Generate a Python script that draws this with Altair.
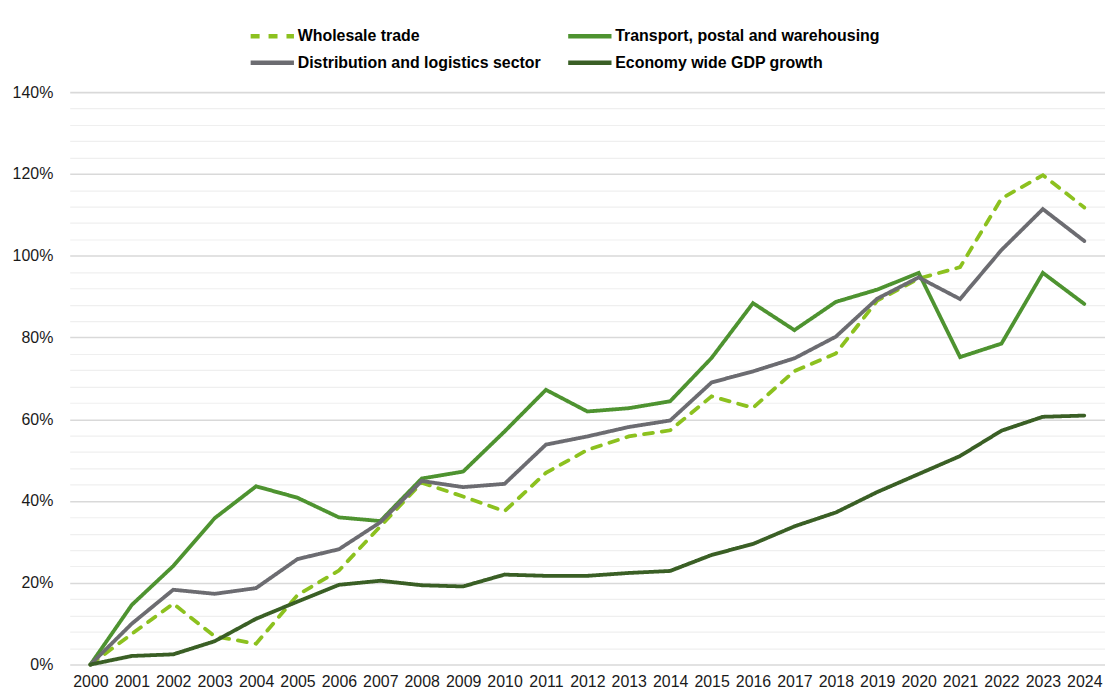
import altair as alt
import pandas as pd

years = [str(y) for y in range(2000, 2025)]
series_names = [
    "Wholesale trade",
    "Transport, postal and warehousing",
    "Distribution and logistics sector",
    "Economy wide GDP growth",
]
wholesale = [0, 7.5, 14.9, 6.9, 5.1, 17.0, 23.0, 33.8, 44.5, 41.1, 37.5, 46.9, 52.5, 55.8, 57.3,
             65.6, 62.8, 71.8, 76.1, 89.0, 94.4, 97.2, 114.0, 119.7, 111.8]
transport = [0, 14.6, 24.1, 35.8, 43.6, 40.8, 36.0, 35.1, 45.5, 47.2, 57.0, 67.2, 61.9, 62.7, 64.4,
             75.0, 88.4, 81.8, 88.7, 91.7, 95.8, 75.2, 78.5, 95.8, 88.2]
distribution = [0, 10.0, 18.3, 17.3, 18.7, 25.8, 28.2, 34.8, 44.9, 43.4, 44.2, 53.8, 55.8, 58.1, 59.7,
                69.0, 71.7, 74.9, 80.2, 89.5, 94.7, 89.4, 101.4, 111.4, 103.6]
gdp = [0, 2.1, 2.5, 5.7, 11.2, 15.4, 19.5, 20.5, 19.4, 19.1, 22.0, 21.7, 21.7, 22.4, 22.9,
       26.8, 29.5, 33.8, 37.2, 42.2, 46.6, 51.0, 57.2, 60.6, 60.9]
grid_values = [round(i * 0.04, 2) for i in range(36)]

colors = ["#8CC11F", "#4E9330", "#6C6C71", "#3A5F25"]
dashes = [[9, 9], [1, 0], [1, 0], [1, 0]]

rows = []
for name, vals in zip(series_names, [wholesale, transport, distribution, gdp]):
    for yr, v in zip(years, vals):
        rows.append({"year": yr, "series": name, "value": v / 100.0})
df = pd.DataFrame(rows)

legend = alt.Legend(
    title=None,
    orient="none",
    legendX=186,
    legendY=-74,
    direction="horizontal",
    columns=2,
    columnPadding=17,
    rowPadding=0,
    symbolType="M-1.45,0L1.45,0",
    symbolSize=900,
    symbolStrokeWidth=4.5,
    labelFont="Liberation Sans",
    labelFontSize=16,
    labelFontWeight="bold",
    labelColor="#000000",
    labelOffset=8,
    labelLimit=400,
    padding=0,
)

chart = alt.Chart(df).mark_line(strokeWidth=3.8, strokeCap="round").encode(
    x=alt.X(
        "year:O",
        sort=years,
        scale=alt.Scale(type="point", padding=0.5),
        axis=alt.Axis(
            title=None,
            labelAngle=0,
            domain=False,
            ticks=False,
            grid=False,
            labelFont="Liberation Sans",
            labelFontSize=16,
            labelColor="#1a1a1a",
            labelPadding=9,
        ),
    ),
    y=alt.Y(
        "value:Q",
        scale=alt.Scale(domain=[0, 1.4], nice=False),
        axis=alt.Axis(
            title=None,
            values=grid_values,
            labelExpr="round(datum.value*100) % 20 == 0 ? format(datum.value, '.0%') : ''",
            domain=False,
            ticks=False,
            gridColor={"condition": {"test": "round(datum.value*100) % 20 == 0", "value": "#d9d9d9"}, "value": "#efefef"},
            gridWidth={"condition": {"test": "round(datum.value*100) % 20 == 0", "value": 1.6}, "value": 1.2},
            labelFont="Liberation Sans",
            labelFontSize=16,
            labelColor="#1a1a1a",
            labelPadding=17,
        ),
    ),
    color=alt.Color(
        "series:N",
        scale=alt.Scale(domain=series_names, range=colors),
        sort=series_names,
        legend=legend,
    ),
    strokeDash=alt.StrokeDash(
        "series:N",
        scale=alt.Scale(domain=series_names, range=dashes),
        sort=series_names,
        legend=legend,
    ),
    order=alt.Order("year:O"),
).properties(
    width=1040,
    height=575,
    padding={"left": 4, "top": 9, "right": 0, "bottom": 0},
).configure_view(stroke=None)

chart.save("out.html", embed_options={"renderer": "svg", "actions": False})
